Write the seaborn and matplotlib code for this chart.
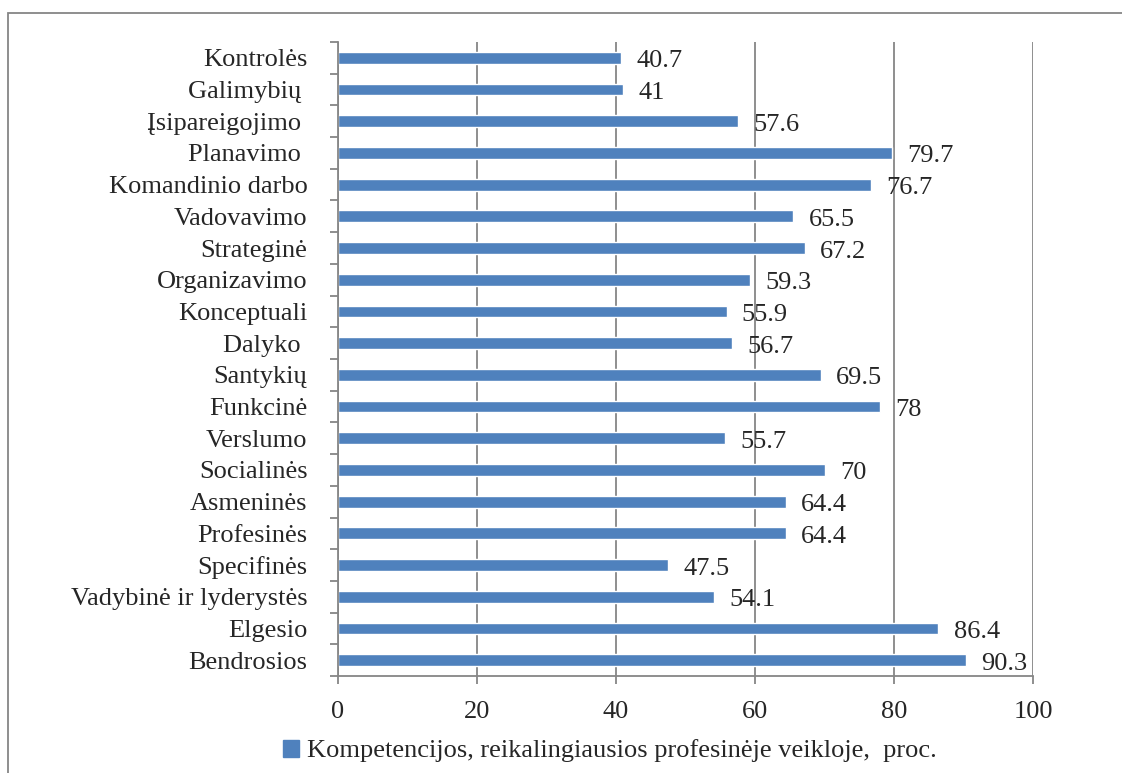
import matplotlib
matplotlib.use("Agg")
import matplotlib.pyplot as plt
import matplotlib.patches as mpatches
import seaborn as sns
import pandas as pd
import numpy as np

categories = ["Kontrolės", "Galimybių ", "Įsipareigojimo ", "Planavimo ", "Komandinio darbo",
              "Vadovavimo", "Strateginė", "Organizavimo", "Konceptuali", "Dalyko ",
              "Santykių", "Funkcinė", "Verslumo", "Socialinės", "Asmeninės",
              "Profesinės", "Specifinės", "Vadybinė ir lyderystės", "Elgesio", "Bendrosios"]
values = [40.7, 41, 57.6, 79.7, 76.7, 65.5, 67.2, 59.3, 55.9, 56.7,
          69.5, 78, 55.7, 70, 64.4, 64.4, 47.5, 54.1, 86.4, 90.3]
value_labels = ["40.7", "41", "57.6", "79.7", "76.7", "65.5", "67.2", "59.3", "55.9", "56.7",
                "69.5", "78", "55.7", "70", "64.4", "64.4", "47.5", "54.1", "86.4", "90.3"]
series_name = "Kompetencijos, reikalingiausios profesinėje veikloje,  proc."
xticks = [0, 20, 40, 60, 80, 100]

sns.set_theme(style="white")
plt.rcParams['font.family'] = ['Liberation Serif', 'DejaVu Serif']

W, H = 1122, 773
fig = plt.figure(figsize=(W / 100, H / 100), dpi=100)
ax = fig.add_axes([338 / W, 1 - 676 / H, (1033 - 338) / W, (676 - 42) / H])

df = pd.DataFrame({"cat": categories, "val": values})
bar_color = "#4F81BD"
sns.barplot(data=df, x="val", y="cat", order=categories, color=bar_color,
            width=0.37, ax=ax, saturation=1, orient="h")

fs = 19
grid_c = "#868686"
ax.set_xlim(0, 100)
ax.set_ylim(19.5, -0.5)
ax.set_xticks(xticks)
ax.set_xticklabels([str(t) for t in xticks], fontsize=fs)
ax.set_xlabel("")
ax.set_ylabel("")
ax.xaxis.grid(True, color=grid_c, linewidth=1.3, linestyle="-")
ax.set_axisbelow(True)
for s in ["top", "right"]:
    ax.spines[s].set_visible(False)
for s in ["left", "bottom"]:
    ax.spines[s].set_color(grid_c)
    ax.spines[s].set_linewidth(1.3)

ax.tick_params(axis="x", direction="out", length=6, width=1.3, color=grid_c, pad=12,
               bottom=True)
ax.set_yticks(range(len(categories)))
ax.set_yticklabels(categories, fontsize=fs)
ax.set_yticks(np.arange(-0.5, len(categories), 1.0), minor=True)
ax.tick_params(axis="y", which="major", length=0, pad=22, left=True)
ax.tick_params(axis="y", which="minor", direction="out", length=6, width=1.3,
               color=grid_c, left=True)

for bar, lab in zip(ax.containers[0], value_labels):
    ax.annotate(lab, xy=(bar.get_width(), bar.get_y() + bar.get_height() / 2),
                xytext=(11, -2.5), textcoords="offset points",
                ha="left", va="center", fontsize=fs)

border = mpatches.Rectangle((8 / W, -0.1), 1.2, (1 - 13 / H) + 0.1,
                            transform=fig.transFigure, fill=False,
                            edgecolor=grid_c, linewidth=1.3)
fig.add_artist(border)

handle = mpatches.Patch(color=bar_color, label=series_name)
fig.legend(handles=[handle], loc="center", bbox_to_anchor=(610 / W, 1 - 751 / H),
           frameon=False, fontsize=fs, handlelength=0.6, handleheight=0.6,
           handletextpad=0.3, borderaxespad=0)

fig.savefig("out.png", dpi=100)
